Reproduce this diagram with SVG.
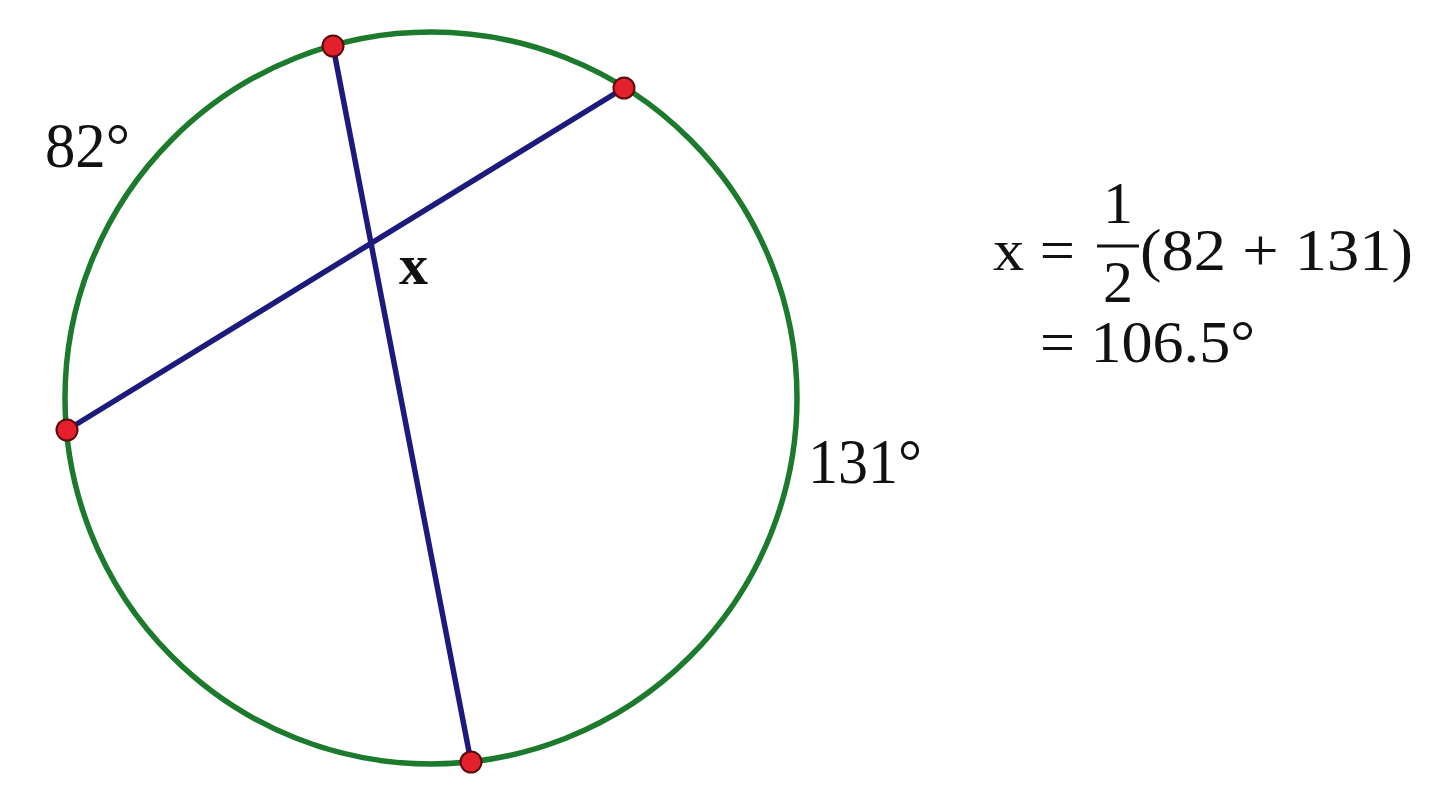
<svg xmlns="http://www.w3.org/2000/svg" width="1440" height="800" viewBox="0 0 1440 800">
<style>
.t{font-family:"Liberation Serif","Times New Roman",serif;fill:#111}
.chord{stroke:#1c1a7c;stroke-width:5.5;stroke-linecap:round}
.pt{fill:#e3202c;stroke:#5a0a0a;stroke-width:2}
</style>
<rect width="1440" height="800" fill="#fff"/>
<g id="circle"><circle cx="431" cy="398" r="366" fill="none" stroke="#1b7a2c" stroke-width="5.5"/></g>
<g id="connectors">
<line class="chord" x1="333" y1="46" x2="471" y2="762"/>
<line class="chord" x1="624" y1="88" x2="67" y2="430"/>
</g>
<g id="points">
<circle class="pt" cx="333" cy="46" r="10.5"/>
<circle class="pt" cx="624" cy="88" r="10.5"/>
<circle class="pt" cx="67" cy="430" r="10.5"/>
<circle class="pt" cx="471" cy="762" r="10.5"/>
</g>
<g id="labels">
<text class="t" x="45" y="167" font-size="64" textLength="85" lengthAdjust="spacingAndGlyphs">82°</text>
<text class="t" x="808" y="483" font-size="64" textLength="114" lengthAdjust="spacingAndGlyphs">131°</text>
<text class="t" x="399" y="284" font-size="58" font-weight="bold">x</text>
</g>
<g id="equation">
<text class="t" x="993" y="270" font-size="60" textLength="82" lengthAdjust="spacingAndGlyphs">x =</text>
<text class="t" x="1118" y="223" font-size="60" text-anchor="middle">1</text>
<line x1="1097" y1="246" x2="1139" y2="246" stroke="#111" stroke-width="3"/>
<text class="t" x="1118" y="302" font-size="60" text-anchor="middle">2</text>
<text class="t" x="1140" y="270" font-size="60" textLength="273" lengthAdjust="spacingAndGlyphs">(82 + 131)</text>
<text class="t" x="1040" y="362" font-size="60" textLength="215" lengthAdjust="spacingAndGlyphs">= 106.5°</text>
</g>
</svg>
